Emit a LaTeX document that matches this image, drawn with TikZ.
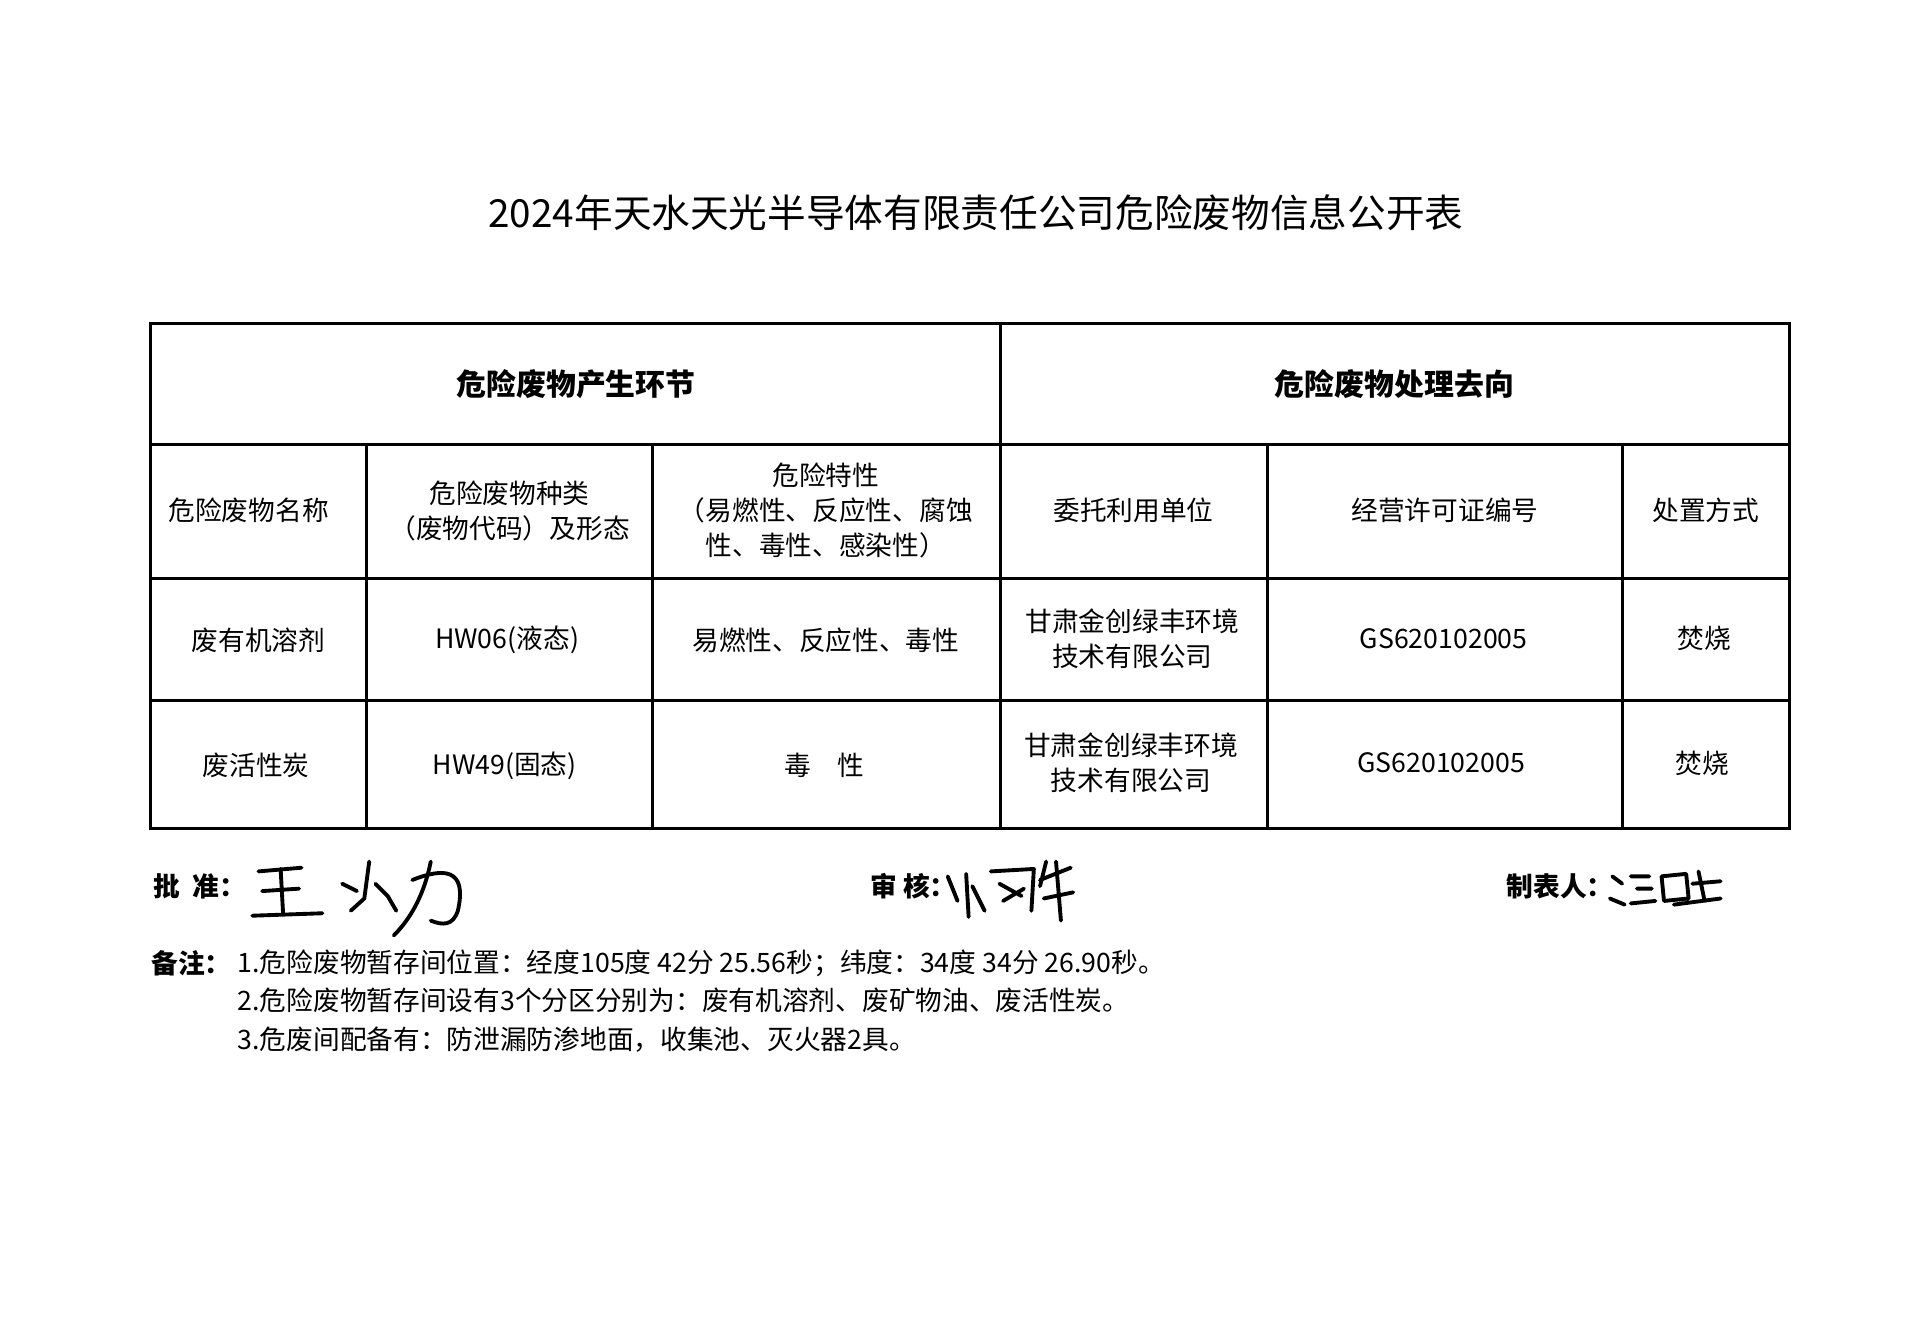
\documentclass[tikz,border=0pt]{standalone}
\usepackage{fontspec}
\setmainfont{Liberation Serif}
\newfontfamily\cjk{Noto Sans CJK SC}
\begin{document}
\begin{tikzpicture}[x=0.1231mm,y=-0.1231mm,
  cell/.style={font=\cjk\fontsize{7.6}{10}\selectfont,align=center,text width=#1},
  cell/.default=100,
  hd/.style={font=\cjk\bfseries\fontsize{8.5}{11}\selectfont},
  note/.style={font=\cjk\fontsize{7.6}{10}\selectfont,anchor=west},
  sig/.style={line width=1.1pt,line cap=round,line join=round}]
\useasboundingbox (0,0) rectangle (1560,1072.5);
\node[font=\cjk\fontsize{11}{13}\selectfont] (title) at (793,173) {2024年天水天光半导体有限责任公司危险废物信息公开表};
% table
\draw[line width=0.9pt] (122,263) rectangle (1454,673);
\foreach \y in {361,470,569} \draw[line width=0.9pt] (122,\y) -- (1454,\y);
\draw[line width=0.9pt] (813,263) -- (813,673);
\foreach \x in {298,530,1030,1318} \draw[line width=0.9pt] (\x,361) -- (\x,673);
\node[hd] (h1) at (468,312) {危险废物产生环节};
\node[hd] (h2) at (1133,312) {危险废物处理去向};
\node[cell=150] (c1) at (202,415) {危险废物名称};
\node[cell=200] (c2) at (414,415) {危险废物种类\\（废物代码）及形态};
\node[cell=260] (c3) at (671,415) {危险特性\\（易燃性、反应性、腐蚀\\性、毒性、感染性）};
\node[cell=200] (c4) at (921,415) {委托利用单位};
\node[cell=260] (c5) at (1174,415) {经营许可证编号};
\node[cell=120] (c6) at (1386,415) {处置方式};
\node[cell=150] (r1a) at (210,520) {废有机溶剂};
\node[cell=200] (r1b) at (412,520) {HW06(液态)};
\node[cell=260] (r1c) at (671,520) {易燃性、反应性、毒性};
\node[cell=200] (r1d) at (920,519) {甘肃金创绿丰环境\\技术有限公司};
\node[cell=260] (r1e) at (1173,519) {GS620102005};
\node[cell=120] (r1f) at (1385,519) {焚烧};
\node[cell=150] (r2a) at (208,622) {废活性炭};
\node[cell=200] (r2b) at (410,622) {HW49(固态)};
\node[cell=260] (r2c) at (670,622) {毒\quad 性};
\node[cell=200] (r2d) at (919,620) {甘肃金创绿丰环境\\技术有限公司};
\node[cell=260] (r2e) at (1171,620) {GS620102005};
\node[cell=120] (r2f) at (1383,620) {焚烧};
% signatures
\node[note,font=\cjk\bfseries\fontsize{7.6}{10}\selectfont] (s1) at (115,720) {批\ \ 准：};
\node[note,font=\cjk\bfseries\fontsize{7.6}{10}\selectfont] (s2) at (697,720) {审\ 核：};
\node[note,font=\cjk\bfseries\fontsize{7.6}{10}\selectfont] (s3) at (1214,720) {制表人：};
\draw[sig] (210,708) -- (245,705) (228,706) -- (230,742) (213,724) -- (243,722) (205,744) -- (262,742);
\draw[sig] (300,700) -- (296,730) -- (285,740) (278,718) -- (290,724) (305,718) -- (315,728) -- (322,740);
\draw[sig] (335,715) .. controls (360,705) and (380,705) .. (372,740) .. controls (368,752) and (360,752) .. (350,748);
\draw[sig] (350,700) .. controls (345,725) and (335,745) .. (320,760);
\draw[sig] (770,712) -- (778,732) (785,710) -- (787,745) (790,720) -- (800,740);
\draw[sig] (805,708) -- (840,706) -- (838,740) (812,718) -- (830,728) (815,732) -- (832,722);
\draw[sig] (850,700) -- (845,720) (845,715) -- (870,705) (858,700) -- (862,748) (848,730) -- (872,725);
\draw[sig] (1310,712) -- (1318,718) (1308,730) -- (1320,735) (1325,712) -- (1340,712) (1330,722) -- (1342,722) (1325,734) -- (1345,732);
\draw[sig] (1350,712) -- (1370,710) -- (1372,730) -- (1352,732) -- cycle (1380,708) -- (1385,732) (1375,718) -- (1398,716) (1360,735) -- (1398,730);
% notes
\node[note,font=\cjk\bfseries\fontsize{7.6}{10}\selectfont] (n0) at (113,783) {备注：};
\node[note] (n1) at (183,783) {1.危险废物暂存间位置：经度105度 42分 25.56秒；纬度：34度 34分 26.90秒。};
\node[note] (n2) at (183,813) {2.危险废物暂存间设有3个分区分别为：废有机溶剂、废矿物油、废活性炭。};
\node[note] (n3) at (183,845) {3.危废间配备有：防泄漏防渗地面，收集池、灭火器2具。};
\end{tikzpicture}
\end{document}
